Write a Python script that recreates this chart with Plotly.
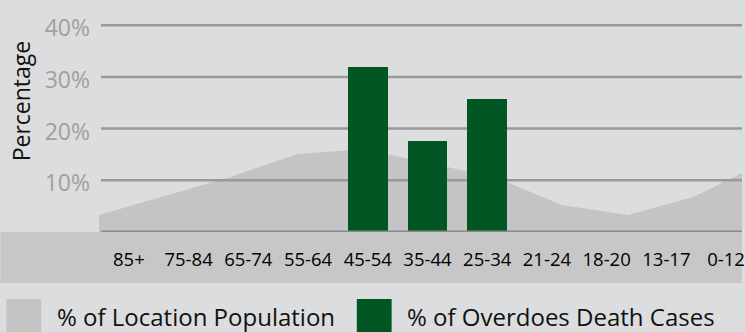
import plotly.graph_objects as go

# ---- data ----
age_groups = ["85+", "75-84", "65-74", "55-64", "45-54", "35-44",
              "25-34", "21-24", "18-20", "13-17", "0-12"]
population_pct = [3.3, 7.0, 10.7, 15.1, 16.0, 13.3, 10.6, 5.2, 3.3, 6.8, 13.1]
overdose_pct = [None, None, None, None, 31.9, 17.6, 25.7, None, None, None, None]
y_tick_values = [10, 20, 30, 40]
y_tick_labels = ["10%", "20%", "30%", "40%"]
legend_labels = ["% of Location Population", "% of Overdoes Death Cases"]
y_title = "Percentage"

# ---- style ----
W, H = 745, 332
ML, MR, MT, MB = 99, 0, 0, 100
PW, PH = W - ML - MR, H - MT - MB
BG = "#dcdddf"
AREA = "#c4c4c5"
BAND = "#c7c7c8"
GRID = "#999999"
BASE = "#8a8a8a"
GREEN = "#005724"
FONT = "Open Sans"

area_x = list(range(len(population_pct)))
AREA_RANGE = [0, PW / 66.4]
BAR_STEP, BAR_X0 = 60.0, 129.0
BAR_RANGE = [(ML - BAR_X0) / BAR_STEP, (W - BAR_X0) / BAR_STEP]
Y_RANGE = [0, PH / 5.17]


def px_x(p):
    return (p - ML) / PW


def px_y(p):
    return (MT + PH - p) / PH


fig = go.Figure()

# population area (main x axis)
fig.add_trace(go.Scatter(
    x=area_x, y=population_pct, mode="lines", fill="tozeroy",
    fillcolor=AREA, line=dict(width=0, color=AREA),
    showlegend=False, hoverinfo="skip", xaxis="x", yaxis="y"))

# gridlines above area, below bars
gx, gy = [], []
for v in y_tick_values:
    gx += [AREA_RANGE[0] + 0.03, AREA_RANGE[1], None]
    gy += [v, v, None]
fig.add_trace(go.Scatter(
    x=gx, y=gy, mode="lines", line=dict(color=GRID, width=2.5),
    showlegend=False, hoverinfo="skip", xaxis="x", yaxis="y"))

# overdose bars (overlaid x axis)
fig.add_trace(go.Bar(
    x=age_groups, y=overdose_pct, marker=dict(color=GREEN, line=dict(width=0)),
    width=40 / BAR_STEP, showlegend=False, xaxis="x2", yaxis="y"))

shapes = [
    # darker band under the axis
    dict(type="rect", xref="paper", yref="paper",
         x0=px_x(0), x1=1.0, y0=px_y(283), y1=0,
         fillcolor=BAND, line=dict(width=0), layer="below"),
    # baseline
    dict(type="line", xref="paper", yref="y",
         x0=px_x(101), x1=1.0, y0=0, y1=0,
         line=dict(color=BASE, width=3), layer="above"),
    # legend swatches
    dict(type="rect", xref="paper", yref="paper",
         x0=px_x(6), x1=px_x(41), y0=px_y(340), y1=px_y(299),
         fillcolor=AREA, line=dict(width=0), layer="above"),
    dict(type="rect", xref="paper", yref="paper",
         x0=px_x(358), x1=px_x(393), y0=px_y(340), y1=px_y(299),
         fillcolor=GREEN, line=dict(width=0), layer="above"),
]

annotations = [
    dict(text=legend_labels[0], xref="paper", yref="paper",
         x=px_x(55), y=px_y(316), xanchor="left", yanchor="middle",
         showarrow=False, font=dict(family=FONT, size=24, color="#111111")),
    dict(text=legend_labels[1], xref="paper", yref="paper",
         x=px_x(406), y=px_y(316), xanchor="left", yanchor="middle",
         showarrow=False, font=dict(family=FONT, size=24, color="#111111")),
    dict(text=y_title, xref="paper", yref="paper",
         x=px_x(21), y=px_y(101), xanchor="center", yanchor="middle",
         textangle=-90, showarrow=False,
         font=dict(family=FONT, size=23, color="#111111")),
]

fig.update_layout(
    width=W, height=H,
    margin=dict(l=ML, r=MR, t=MT, b=MB, pad=0),
    paper_bgcolor=BG, plot_bgcolor="rgba(0,0,0,0)",
    bargap=0,
    xaxis=dict(range=AREA_RANGE, showgrid=False, zeroline=False,
               showticklabels=False, showline=False, fixedrange=True),
    xaxis2=dict(type="category", overlaying="x", anchor="y", side="bottom",
                range=BAR_RANGE, showgrid=False, zeroline=False,
                showline=False, ticks="", ticklabelstandoff=14,
                tickfont=dict(family=FONT, size=18.5, color="#000000"),
                fixedrange=True),
    yaxis=dict(range=Y_RANGE, showgrid=False, zeroline=False,
               tickvals=y_tick_values, ticktext=y_tick_labels,
               ticks="", ticklabelstandoff=8, ticklabelshift=3,
               tickfont=dict(family=FONT, size=23, color="#a0a0a0"),
               fixedrange=True),
    shapes=shapes,
    annotations=annotations,
    showlegend=False,
)

fig.write_html("out.html")
